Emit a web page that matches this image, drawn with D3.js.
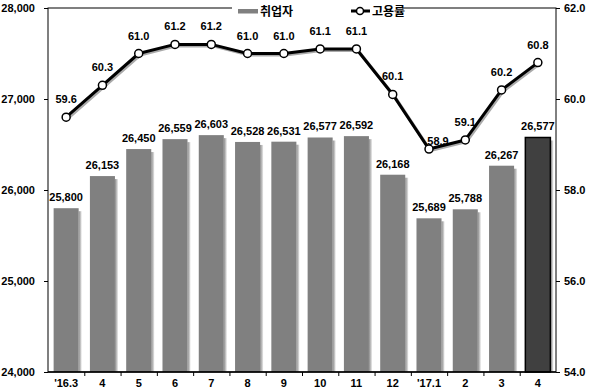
<!DOCTYPE html>
<html><head><meta charset="utf-8">
<script src="https://cdn.jsdelivr.net/npm/d3@7"></script>
<style>body{margin:0;background:#fff}svg{display:block}</style>
</head><body>
<svg id="c" width="600" height="390"></svg>
<script>
const categories = ["'16.3","4","5","6","7","8","9","10","11","12","'17.1","2","3","4"];
const employed = [25800,26153,26450,26559,26603,26528,26531,26577,26592,26168,25689,25788,26267,26577];
const rate = [59.6,60.3,61.0,61.2,61.2,61.0,61.0,61.1,61.1,60.1,58.9,59.1,60.2,60.8];
const leftTicks = [24000,25000,26000,27000,28000];
const rightTicks = [54,56,58,60,62];
const seriesNames = ["취업자","고용률"];

const svg = d3.select("#c");
const m = {l:48, r:556, t:8, b:372};
const x = d3.scaleBand().domain(d3.range(categories.length)).range([m.l, m.r]).paddingInner(0.31).paddingOuter(0.155);
const yL = d3.scaleLinear().domain([24000,28000]).range([m.b, m.t]);
const yR = d3.scaleLinear().domain([54,62]).range([m.b, m.t]);
const fmt = d3.format(",");
const numFont = "'Liberation Sans', Arial, sans-serif";
const krFont = "'Noto Sans CJK KR', sans-serif";

const defs = svg.append("defs");
const g = defs.append("linearGradient").attr("id","sh").attr("x1",0).attr("x2",1);
g.append("stop").attr("offset",0).attr("stop-color","#8a8a8a");
g.append("stop").attr("offset",1).attr("stop-color","#e8e8e8");

// bars with shadow
const bw = x.bandwidth();
svg.append("g").selectAll("rect").data(employed).join("rect")
  .attr("x",(d,i)=>x(i)+bw).attr("y",d=>yL(d)+3).attr("width",3).attr("height",d=>m.b-yL(d)-3)
  .attr("fill","url(#sh)");
svg.append("g").selectAll("rect").data(employed).join("rect")
  .attr("x",(d,i)=>x(i)).attr("y",d=>yL(d)).attr("width",bw).attr("height",d=>m.b-yL(d))
  .attr("fill",(d,i)=>i===employed.length-1?"#404040":"#808080")
  .attr("stroke",(d,i)=>i===employed.length-1?"#000":"none")
  .attr("stroke-width",1.5);

// frame
svg.append("rect").attr("x",m.l).attr("y",m.t).attr("width",m.r-m.l).attr("height",m.b-m.t)
  .attr("fill","none").attr("stroke","#000").attr("stroke-width",1);
svg.append("line").attr("x1",m.l).attr("x2",m.r).attr("y1",m.b).attr("y2",m.b).attr("stroke","#000").attr("stroke-width",1.5);

// axes
const axL = d3.axisLeft(yL).tickValues(leftTicks).tickFormat(fmt).tickSize(4).tickPadding(9);
const gl = svg.append("g").attr("transform",`translate(${m.l},0)`).call(axL);
const axR = d3.axisRight(yR).tickValues(rightTicks).tickFormat(d3.format(".1f")).tickSize(4).tickPadding(4);
const gr = svg.append("g").attr("transform",`translate(${m.r},0)`).call(axR);
const bounds = d3.range(categories.length+1).map(i=>m.l+i*x.step());
const xScaleBounds = d3.scaleLinear().domain([0,categories.length]).range([m.l,m.r]);
const axB = d3.axisBottom(xScaleBounds).tickValues(d3.range(1,categories.length)).tickSize(4).tickFormat("");
const gb = svg.append("g").attr("transform",`translate(0,${m.b})`).call(axB);
[gl,gr,gb].forEach(a=>{a.select(".domain").remove();a.selectAll("text").attr("font-family",numFont).attr("font-weight","bold").attr("font-size",11).attr("fill","#000");});
svg.append("g").selectAll("text").data(categories).join("text")
  .attr("x",(d,i)=>x(i)+bw/2).attr("y",387).attr("text-anchor","middle")
  .attr("font-family",numFont).attr("font-weight","bold").attr("font-size",11).text(d=>d);

// bar labels
svg.append("g").selectAll("text").data(employed).join("text")
  .attr("x",(d,i)=>x(i)+bw/2).attr("y",d=>yL(d)-7).attr("text-anchor","middle")
  .attr("font-family",numFont).attr("font-weight","bold").attr("font-size",11).text(d=>fmt(d));

// line
const cx = i=>x(i)+bw/2;
const line = d3.line().x((d,i)=>cx(i)).y(d=>yR(d));
svg.append("path").datum(rate).attr("d",line).attr("fill","none").attr("stroke","#aaa").attr("stroke-width",3)
  .attr("transform","translate(1.5,1.5)").attr("stroke-linejoin","round");
svg.append("path").datum(rate).attr("d",line).attr("fill","none").attr("stroke","#000").attr("stroke-width",3).attr("stroke-linejoin","round");
svg.append("g").selectAll("circle").data(rate).join("circle")
  .attr("cx",(d,i)=>cx(i)).attr("cy",d=>yR(d)).attr("r",4)
  .attr("fill","#fff").attr("stroke","#000").attr("stroke-width",1.5);
const minI = rate.indexOf(d3.min(rate));
svg.append("g").selectAll("text").data(rate).join("text")
  .attr("x",(d,i)=>cx(i)+(i===minI?9:0)).attr("y",(d,i)=>yR(d)-(i===minI?4:14)).attr("text-anchor","middle")
  .attr("font-family",numFont).attr("font-weight","bold").attr("font-size",11).text(d=>d.toFixed(1));

// legend
const lg = svg.append("g");
lg.append("rect").attr("x",232).attr("y",2).attr("width",170).attr("height",14).attr("fill","#fff");
lg.append("rect").attr("x",238).attr("y",9).attr("width",20).attr("height",4.5).attr("fill","#808080");
lg.append("text").attr("x",260).attr("y",15.5).attr("font-family",krFont).attr("font-weight","bold").attr("font-size",12).text(seriesNames[0]);
lg.append("line").attr("x1",351).attr("x2",370).attr("y1",11).attr("y2",11).attr("stroke","#000").attr("stroke-width",3);
lg.append("circle").attr("cx",360).attr("cy",11).attr("r",3.5).attr("fill","#fff").attr("stroke","#000").attr("stroke-width",1.5);
lg.append("text").attr("x",372).attr("y",15.5).attr("font-family",krFont).attr("font-weight","bold").attr("font-size",12).text(seriesNames[1]);
</script>
</body></html>
